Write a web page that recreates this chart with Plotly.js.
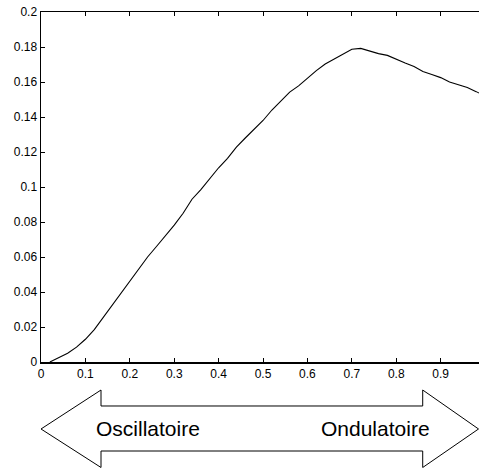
<!DOCTYPE html>
<html>
<head>
<meta charset="utf-8">
<script src="https://cdn.plot.ly/plotly-3.0.1.min.js"></script>
<style>html,body{margin:0;padding:0;background:#fff;}#chart{width:479px;height:468px;}</style>
</head>
<body>
<div id="chart"></div>
<script>
// Data
var xValues = [0.02, 0.04, 0.06, 0.08, 0.10, 0.12, 0.14, 0.16, 0.18, 0.20,
               0.22, 0.24, 0.26, 0.28, 0.30, 0.32, 0.34, 0.36, 0.38, 0.40,
               0.42, 0.44, 0.46, 0.48, 0.50, 0.52, 0.54, 0.56, 0.58, 0.60,
               0.62, 0.64, 0.66, 0.68, 0.70, 0.72, 0.74, 0.76, 0.78, 0.80,
               0.82, 0.84, 0.86, 0.88, 0.90, 0.92, 0.94, 0.96, 0.98, 1.00];
var yValues = [0.0000, 0.0025, 0.0050, 0.0085, 0.0130, 0.0185, 0.0255, 0.0327, 0.0395, 0.0465,
               0.0535, 0.0600, 0.0660, 0.0720, 0.0782, 0.0850, 0.0930, 0.0985, 0.1050, 0.1110,
               0.1164, 0.1228, 0.1280, 0.1330, 0.1380, 0.1440, 0.1490, 0.1542, 0.1578, 0.1622,
               0.1665, 0.1703, 0.1732, 0.1760, 0.1787, 0.1792, 0.1777, 0.1762, 0.1752, 0.1728,
               0.1708, 0.1688, 0.1660, 0.1643, 0.1625, 0.1600, 0.1585, 0.1568, 0.1545, 0.1520];
var xTickVals = [0, 0.1, 0.2, 0.3, 0.4, 0.5, 0.6, 0.7, 0.8, 0.9];
var xTickText = ["0", "0.1", "0.2", "0.3", "0.4", "0.5", "0.6", "0.7", "0.8", "0.9"];
var yTickVals = [0, 0.02, 0.04, 0.06, 0.08, 0.1, 0.12, 0.14, 0.16, 0.18, 0.2];
var yTickText = ["0", "0.02", "0.04", "0.06", "0.08", "0.1", "0.12", "0.14", "0.16", "0.18", "0.2"];
var arrowLabels = ["Oscillatoire", "Ondulatoire"];

var trace = {
  x: xValues, y: yValues, type: 'scatter', mode: 'lines',
  line: {color: '#000', width: 1.1}, hoverinfo: 'skip', showlegend: false
};

// arrow geometry (paper coords: x 0..1 = plot width, y 0..1 = plot height)
function P(px, py) { return [(px - 41) / 438, (362 - py) / 350]; }
var pts = [P(41, 429), P(101, 390), P(101, 406), P(422.7, 406), P(422.7, 390), P(478.5, 429),
           P(422.7, 467.5), P(422.7, 451), P(101, 451), P(101, 467.5)];
var path = 'M ' + pts.map(function(p){ return p[0].toFixed(4) + ',' + p[1].toFixed(4); }).join(' L ') + ' Z';

var layout = {
  width: 479, height: 468,
  margin: {l: 41, r: 0, t: 12, b: 106},
  paper_bgcolor: '#fff', plot_bgcolor: '#fff',
  font: {family: 'Liberation Sans, Arial, sans-serif', color: '#000', size: 12},
  showlegend: false,
  xaxis: {
    range: [0, 0.9863], tickvals: xTickVals, ticktext: xTickText,
    ticks: 'inside', ticklen: 4, tickwidth: 1, tickcolor: '#000',
    showline: true, linecolor: '#000', linewidth: 1.5, mirror: 'ticks',
    showgrid: false, zeroline: false, tickfont: {size: 12}
  },
  yaxis: {
    range: [0, 0.2], tickvals: yTickVals, ticktext: yTickText,
    ticks: 'inside', ticklen: 4, tickwidth: 1, tickcolor: '#000',
    showline: true, linecolor: '#000', linewidth: 1.5, mirror: false,
    showgrid: false, zeroline: false, tickfont: {size: 12}
  },
  shapes: [{
    type: 'path', xref: 'paper', yref: 'paper', path: path,
    line: {color: '#000', width: 1}, fillcolor: 'rgba(0,0,0,0)'
  }],
  annotations: [
    {text: arrowLabels[0], xref: 'paper', yref: 'paper', x: (147.5 - 41) / 438, y: (362 - 428.5) / 350,
     showarrow: false, xanchor: 'center', yanchor: 'middle', font: {size: 21, color: '#000'}},
    {text: arrowLabels[1], xref: 'paper', yref: 'paper', x: (375 - 41) / 438, y: (362 - 428.5) / 350,
     showarrow: false, xanchor: 'center', yanchor: 'middle', font: {size: 21, color: '#000'}}
  ]
};

Plotly.newPlot('chart', [trace], layout, {staticPlot: true, displayModeBar: false});
</script>
</body>
</html>
